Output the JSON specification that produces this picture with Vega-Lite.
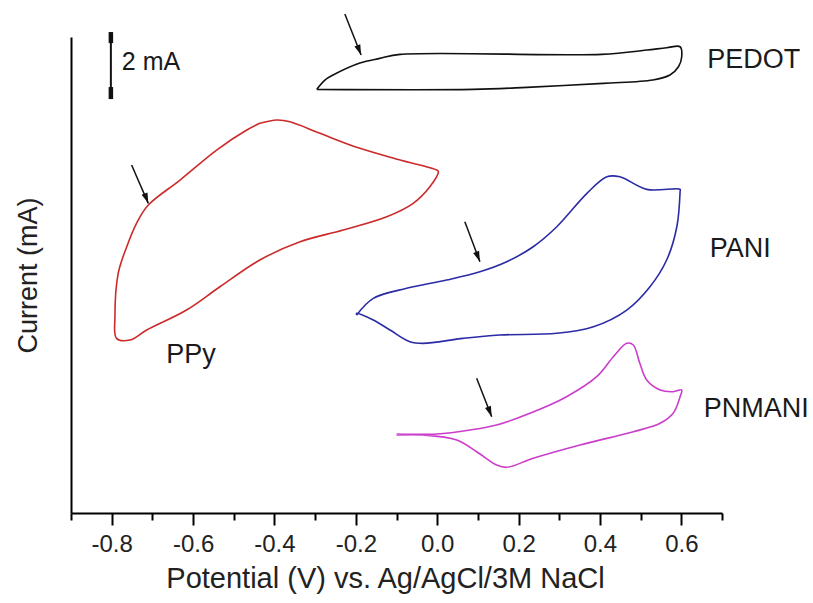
{
  "$schema": "https://vega.github.io/schema/vega-lite/v6.json",
  "width": 651,
  "height": 476,
  "autosize": "none",
  "padding": {"left": 71, "top": 37, "right": 91, "bottom": 90},
  "background": "white",
  "config": {"view": {"stroke": null}, "font": "Liberation Sans"},
  "datasets": {
    "curves": [
      {"s": "PEDOT", "i": 1, "x": -0.296, "y": 12.816},
      {"s": "PEDOT", "i": 2, "x": -0.276, "y": 13.097},
      {"s": "PEDOT", "i": 3, "x": -0.256, "y": 13.249},
      {"s": "PEDOT", "i": 4, "x": -0.190, "y": 13.612},
      {"s": "PEDOT", "i": 5, "x": -0.141, "y": 13.754},
      {"s": "PEDOT", "i": 6, "x": -0.091, "y": 13.875},
      {"s": "PEDOT", "i": 7, "x": 0.404, "y": 13.875},
      {"s": "PEDOT", "i": 8, "x": 0.515, "y": 14.005},
      {"s": "PEDOT", "i": 9, "x": 0.564, "y": 14.074},
      {"s": "PEDOT", "i": 10, "x": 0.597, "y": 14.105},
      {"s": "PEDOT", "i": 11, "x": 0.601, "y": 13.802},
      {"s": "PEDOT", "i": 12, "x": 0.593, "y": 13.5},
      {"s": "PEDOT", "i": 13, "x": 0.572, "y": 13.249},
      {"s": "PEDOT", "i": 14, "x": 0.530, "y": 13.097},
      {"s": "PEDOT", "i": 15, "x": 0.408, "y": 12.998},
      {"s": "PEDOT", "i": 16, "x": 0.220, "y": 12.877},
      {"s": "PEDOT", "i": 17, "x": 0.088, "y": 12.816},
      {"s": "PEDOT", "i": 18, "x": -0.296, "y": 12.816},

      {"s": "PPy", "i": 1, "x": -0.436, "y": 11.788},
      {"s": "PPy", "i": 2, "x": -0.394, "y": 11.887},
      {"s": "PPy", "i": 3, "x": -0.362, "y": 11.836},
      {"s": "PPy", "i": 4, "x": -0.288, "y": 11.485},
      {"s": "PPy", "i": 5, "x": -0.190, "y": 11.031},
      {"s": "PPy", "i": 6, "x": -0.091, "y": 10.678},
      {"s": "PPy", "i": 7, "x": -0.001, "y": 10.375},
      {"s": "PPy", "i": 8, "x": 0.003, "y": 10.324},
      {"s": "PPy", "i": 9, "x": -0.018, "y": 9.870},
      {"s": "PPy", "i": 10, "x": -0.059, "y": 9.368},
      {"s": "PPy", "i": 11, "x": -0.124, "y": 8.962},
      {"s": "PPy", "i": 12, "x": -0.231, "y": 8.560},
      {"s": "PPy", "i": 13, "x": -0.337, "y": 8.206},
      {"s": "PPy", "i": 14, "x": -0.436, "y": 7.653},
      {"s": "PPy", "i": 15, "x": -0.534, "y": 6.845},
      {"s": "PPy", "i": 16, "x": -0.616, "y": 6.140},
      {"s": "PPy", "i": 17, "x": -0.714, "y": 5.535},
      {"s": "PPy", "i": 18, "x": -0.755, "y": 5.233},
      {"s": "PPy", "i": 19, "x": -0.788, "y": 5.284},
      {"s": "PPy", "i": 20, "x": -0.792, "y": 5.938},
      {"s": "PPy", "i": 21, "x": -0.784, "y": 7.250},
      {"s": "PPy", "i": 22, "x": -0.763, "y": 8.055},
      {"s": "PPy", "i": 23, "x": -0.739, "y": 8.763},
      {"s": "PPy", "i": 24, "x": -0.710, "y": 9.316},
      {"s": "PPy", "i": 25, "x": -0.632, "y": 10.073},
      {"s": "PPy", "i": 26, "x": -0.542, "y": 10.980},
      {"s": "PPy", "i": 27, "x": -0.468, "y": 11.585},
      {"s": "PPy", "i": 28, "x": -0.436, "y": 11.788},

      {"s": "PANI", "i": 1, "x": -0.198, "y": 5.989},
      {"s": "PANI", "i": 2, "x": -0.157, "y": 6.494},
      {"s": "PANI", "i": 3, "x": -0.075, "y": 6.797},
      {"s": "PANI", "i": 4, "x": 0.023, "y": 7.048},
      {"s": "PANI", "i": 5, "x": 0.105, "y": 7.299},
      {"s": "PANI", "i": 6, "x": 0.171, "y": 7.601},
      {"s": "PANI", "i": 7, "x": 0.236, "y": 8.055},
      {"s": "PANI", "i": 8, "x": 0.294, "y": 8.660},
      {"s": "PANI", "i": 9, "x": 0.368, "y": 9.670},
      {"s": "PANI", "i": 10, "x": 0.417, "y": 10.172},
      {"s": "PANI", "i": 11, "x": 0.449, "y": 10.172},
      {"s": "PANI", "i": 12, "x": 0.515, "y": 9.791},
      {"s": "PANI", "i": 13, "x": 0.597, "y": 9.791},
      {"s": "PANI", "i": 14, "x": 0.597, "y": 9.719},
      {"s": "PANI", "i": 15, "x": 0.589, "y": 8.660},
      {"s": "PANI", "i": 16, "x": 0.564, "y": 7.653},
      {"s": "PANI", "i": 17, "x": 0.523, "y": 6.845},
      {"s": "PANI", "i": 18, "x": 0.466, "y": 6.140},
      {"s": "PANI", "i": 19, "x": 0.384, "y": 5.635},
      {"s": "PANI", "i": 20, "x": 0.294, "y": 5.436},
      {"s": "PANI", "i": 21, "x": 0.154, "y": 5.384},
      {"s": "PANI", "i": 22, "x": 0.064, "y": 5.284},
      {"s": "PANI", "i": 23, "x": -0.034, "y": 5.133},
      {"s": "PANI", "i": 24, "x": -0.067, "y": 5.181},
      {"s": "PANI", "i": 25, "x": -0.116, "y": 5.535},
      {"s": "PANI", "i": 26, "x": -0.157, "y": 5.838},
      {"s": "PANI", "i": 27, "x": -0.198, "y": 6.040},
      {"s": "PANI", "i": 28, "x": -0.198, "y": 5.989},

      {"s": "PNMANI", "i": 1, "x": -0.100, "y": 2.390},
      {"s": "PNMANI", "i": 2, "x": -0.001, "y": 2.390},
      {"s": "PNMANI", "i": 3, "x": 0.081, "y": 2.511},
      {"s": "PNMANI", "i": 4, "x": 0.146, "y": 2.662},
      {"s": "PNMANI", "i": 5, "x": 0.228, "y": 3.016},
      {"s": "PNMANI", "i": 6, "x": 0.318, "y": 3.518},
      {"s": "PNMANI", "i": 7, "x": 0.392, "y": 4.123},
      {"s": "PNMANI", "i": 8, "x": 0.433, "y": 4.728},
      {"s": "PNMANI", "i": 9, "x": 0.466, "y": 5.133},
      {"s": "PNMANI", "i": 10, "x": 0.482, "y": 5.082},
      {"s": "PNMANI", "i": 11, "x": 0.498, "y": 4.528},
      {"s": "PNMANI", "i": 12, "x": 0.515, "y": 4.023},
      {"s": "PNMANI", "i": 13, "x": 0.548, "y": 3.721},
      {"s": "PNMANI", "i": 14, "x": 0.580, "y": 3.669},
      {"s": "PNMANI", "i": 15, "x": 0.601, "y": 3.721},
      {"s": "PNMANI", "i": 16, "x": 0.597, "y": 3.518},
      {"s": "PNMANI", "i": 17, "x": 0.580, "y": 3.016},
      {"s": "PNMANI", "i": 18, "x": 0.548, "y": 2.713},
      {"s": "PNMANI", "i": 19, "x": 0.482, "y": 2.459},
      {"s": "PNMANI", "i": 20, "x": 0.351, "y": 2.057},
      {"s": "PNMANI", "i": 21, "x": 0.236, "y": 1.655},
      {"s": "PNMANI", "i": 22, "x": 0.171, "y": 1.382},
      {"s": "PNMANI", "i": 23, "x": 0.146, "y": 1.452},
      {"s": "PNMANI", "i": 24, "x": 0.097, "y": 1.854},
      {"s": "PNMANI", "i": 25, "x": 0.048, "y": 2.208},
      {"s": "PNMANI", "i": 26, "x": -0.034, "y": 2.359},
      {"s": "PNMANI", "i": 27, "x": -0.100, "y": 2.359}
    ],
    "arrows": [
      {"s": "PEDOT", "x": -0.227, "y": 15.094, "x2": -0.187, "y2": 13.853},
      {"s": "PPy", "x": -0.751, "y": 10.526, "x2": -0.710, "y2": 9.368},
      {"s": "PANI", "x": 0.068, "y": 8.811, "x2": 0.105, "y2": 7.601},
      {"s": "PNMANI", "x": 0.097, "y": 4.074, "x2": 0.134, "y2": 2.913}
    ],
    "labels": [
      {"label": "PEDOT", "x": 0.664, "y": 13.46},
      {"label": "PANI", "x": 0.670, "y": 7.743},
      {"label": "PNMANI", "x": 0.655, "y": 2.904},
      {"label": "PPy", "x": -0.666, "y": 4.537}
    ],
    "scalebar": [
      {"part": "bar", "x": -0.802, "y": 14.549, "y2": 12.523},
      {"part": "cap", "x": -0.802, "y": 14.549, "y2": 14.216},
      {"part": "cap", "x": -0.802, "y": 12.886, "y2": 12.523}
    ],
    "scaletext": [
      {"label": "2 mA", "x": -0.775, "y": 13.40}
    ]
  },
  "layer": [
    {
      "data": {"name": "curves"},
      "mark": {"type": "line", "strokeWidth": 1.6, "interpolate": "catmull-rom", "clip": false},
      "encoding": {
        "x": {
          "field": "x", "type": "quantitative",
          "scale": {"domain": [-0.9, 0.7], "nice": false, "zero": false},
          "axis": {
            "title": "Potential (V) vs. Ag/AgCl/3M NaCl",
            "values": [-0.9, -0.8, -0.7, -0.6, -0.5, -0.4, -0.3, -0.2, -0.1, 0, 0.1, 0.2, 0.3, 0.4, 0.5, 0.6, 0.7],
            "labelExpr": "round(datum.value*10) % 2 == 0 ? replace(format(datum.value, '.1f'), '\u2212', '-') : ''",
            "tickSize": {"condition": {"test": "round(datum.value*10) % 2 == 0", "value": 12}, "value": 7},
            "grid": false,
            "domainColor": "#000", "domainWidth": 2,
            "tickColor": "#000", "tickWidth": 2,
            "labelFontSize": 24, "labelColor": "#222", "labelPadding": 7,
            "labelFlush": false, "labelOverlap": false,
            "titleFontSize": 29, "titleFontWeight": "normal", "titleColor": "#222", "titlePadding": 8,
            "titleX": 314, "titleAlign": "center"
          }
        },
        "y": {
          "field": "y", "type": "quantitative",
          "scale": {"domain": [0, 14.4], "nice": false, "zero": false},
          "axis": {
            "title": "Current (mA)",
            "ticks": false, "labels": false, "grid": false,
            "domainColor": "#000", "domainWidth": 2,
            "titleFontSize": 27, "titleFontWeight": "normal", "titleColor": "#222", "titlePadding": 29
          }
        },
        "color": {
          "field": "s", "type": "nominal",
          "scale": {"domain": ["PEDOT", "PPy", "PANI", "PNMANI"], "range": ["#111111", "#cc2a2a", "#2b2ba6", "#cc3ccc"]},
          "legend": null
        },
        "order": {"field": "i", "type": "quantitative"}
      }
    },
    {
      "data": {"name": "arrows"},
      "mark": {"type": "rule", "color": "#111", "strokeWidth": 1.5, "clip": false},
      "encoding": {
        "x": {"field": "x", "type": "quantitative"},
        "y": {"field": "y", "type": "quantitative"},
        "x2": {"field": "x2"},
        "y2": {"field": "y2"}
      }
    },
    {
      "data": {"name": "arrows"},
      "mark": {"type": "point", "shape": "M0,0L-0.3,-1L0.3,-1Z", "filled": true, "color": "#111", "opacity": 1, "size": 440, "angle": -21, "clip": false},
      "encoding": {
        "x": {"field": "x2", "type": "quantitative"},
        "y": {"field": "y2", "type": "quantitative"}
      }
    },
    {
      "data": {"name": "scalebar"},
      "mark": {"type": "rule", "color": "#111", "clip": false},
      "encoding": {
        "x": {"field": "x", "type": "quantitative"},
        "y": {"field": "y", "type": "quantitative"},
        "y2": {"field": "y2"},
        "strokeWidth": {"field": "part", "type": "nominal", "scale": {"domain": ["bar", "cap"], "range": [2, 4.5]}, "legend": null}
      }
    },
    {
      "data": {"name": "labels"},
      "mark": {"type": "text", "align": "left", "baseline": "alphabetic", "fontSize": 27, "color": "#1a1a1a", "clip": false},
      "encoding": {
        "x": {"field": "x", "type": "quantitative"},
        "y": {"field": "y", "type": "quantitative"},
        "text": {"field": "label"}
      }
    },
    {
      "data": {"name": "scaletext"},
      "mark": {"type": "text", "align": "left", "baseline": "alphabetic", "fontSize": 25, "color": "#1a1a1a", "clip": false},
      "encoding": {
        "x": {"field": "x", "type": "quantitative"},
        "y": {"field": "y", "type": "quantitative"},
        "text": {"field": "label"}
      }
    }
  ]
}
